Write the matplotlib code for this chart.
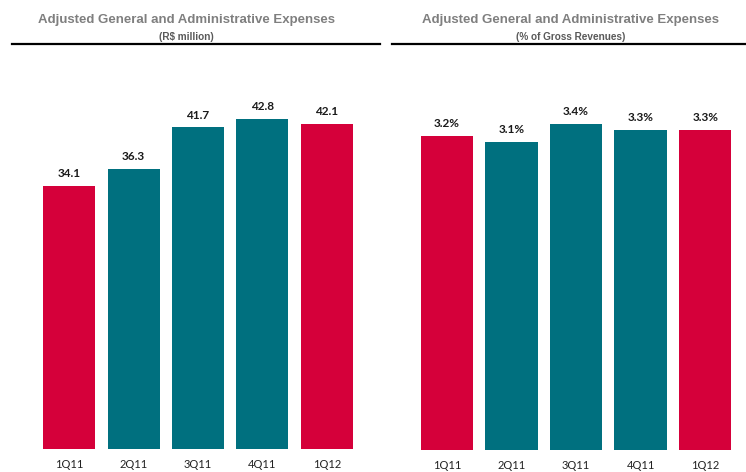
import matplotlib
matplotlib.use("Agg")
import matplotlib.pyplot as plt
from matplotlib.lines import Line2D

quarters = ["1Q11", "2Q11", "3Q11", "4Q11", "1Q12"]
ga_values = [34.1, 36.3, 41.7, 42.8, 42.1]
pct_values = [3.2, 3.1, 3.4, 3.3, 3.3]
bar_colors = ["#D5003A", "#00707F", "#00707F", "#00707F", "#D5003A"]

W, H = 746, 472
fig = plt.figure(figsize=(W / 100, H / 100), dpi=100)

def px_axes(left, right, bottom, top):
    return fig.add_axes([left / W, 1 - bottom / H, (right - left) / W, (bottom - top) / H])

def style(ax):
    for s in ax.spines.values():
        s.set_visible(False)
    ax.set_yticks([])
    ax.tick_params(axis="x", length=0, pad=7, labelsize=8, colors="#222222")
    for lab in ax.get_xticklabels():
        lab.set_fontfamily("Lato")

# left chart: R$ million, axis from zero
ax1 = px_axes(37, 359, 449, 63.5)
x = range(len(quarters))
ax1.bar(x, ga_values, width=0.81, color=bar_colors)
ax1.set_ylim(0, 50)
ax1.set_xlim(-0.5, len(quarters) - 0.5)
ax1.set_xticks(list(x))
ax1.set_xticklabels(quarters)
for i, v in enumerate(ga_values):
    ax1.annotate(f"{v:.1f}", (i, v), xytext=(0, 5), textcoords="offset points",
                 ha="center", va="bottom", fontsize=8.5, fontweight="bold",
                 family="Lato", color="#1a1a1a")
style(ax1)

# right chart: % of gross revenues, axis floor below zero as in source
base = -2.03
ax2 = px_axes(414.5, 737.5, 450, 450 - (5.0 - base) * 60)
ax2.bar(x, [v - base for v in pct_values], bottom=base, width=0.81, color=bar_colors)
ax2.set_ylim(base, 5.0)
ax2.set_xlim(-0.5, len(quarters) - 0.5)
ax2.set_xticks(list(x))
ax2.set_xticklabels(quarters)
for i, v in enumerate(pct_values):
    ax2.annotate(f"{v:.1f}%", (i, v), xytext=(0, 5), textcoords="offset points",
                 ha="center", va="bottom", fontsize=8.5, fontweight="bold",
                 family="Lato", color="#1a1a1a")
style(ax2)

# titles and rules
title = "Adjusted General and Administrative Expenses"
for cx, sub in [(186, "(R$ million)"), (571, "(% of Gross Revenues)")]:
    fig.text(cx / W, 1 - 20.5 / H, title, ha="center", va="center", fontsize=9.5,
             fontweight="bold", family="Liberation Sans", color="#7F7F7F")
    fig.text(cx / W, 1 - 36.5 / H, sub, ha="center", va="center", fontsize=7.2,
             fontweight="bold", family="Liberation Sans", color="#595959")

for x0, x1 in [(12, 380), (392, 746)]:
    fig.add_artist(Line2D([x0 / W, x1 / W], [1 - 44 / H, 1 - 44 / H],
                          color="black", lw=1.6, transform=fig.transFigure))

fig.savefig("out.png", dpi=100)
